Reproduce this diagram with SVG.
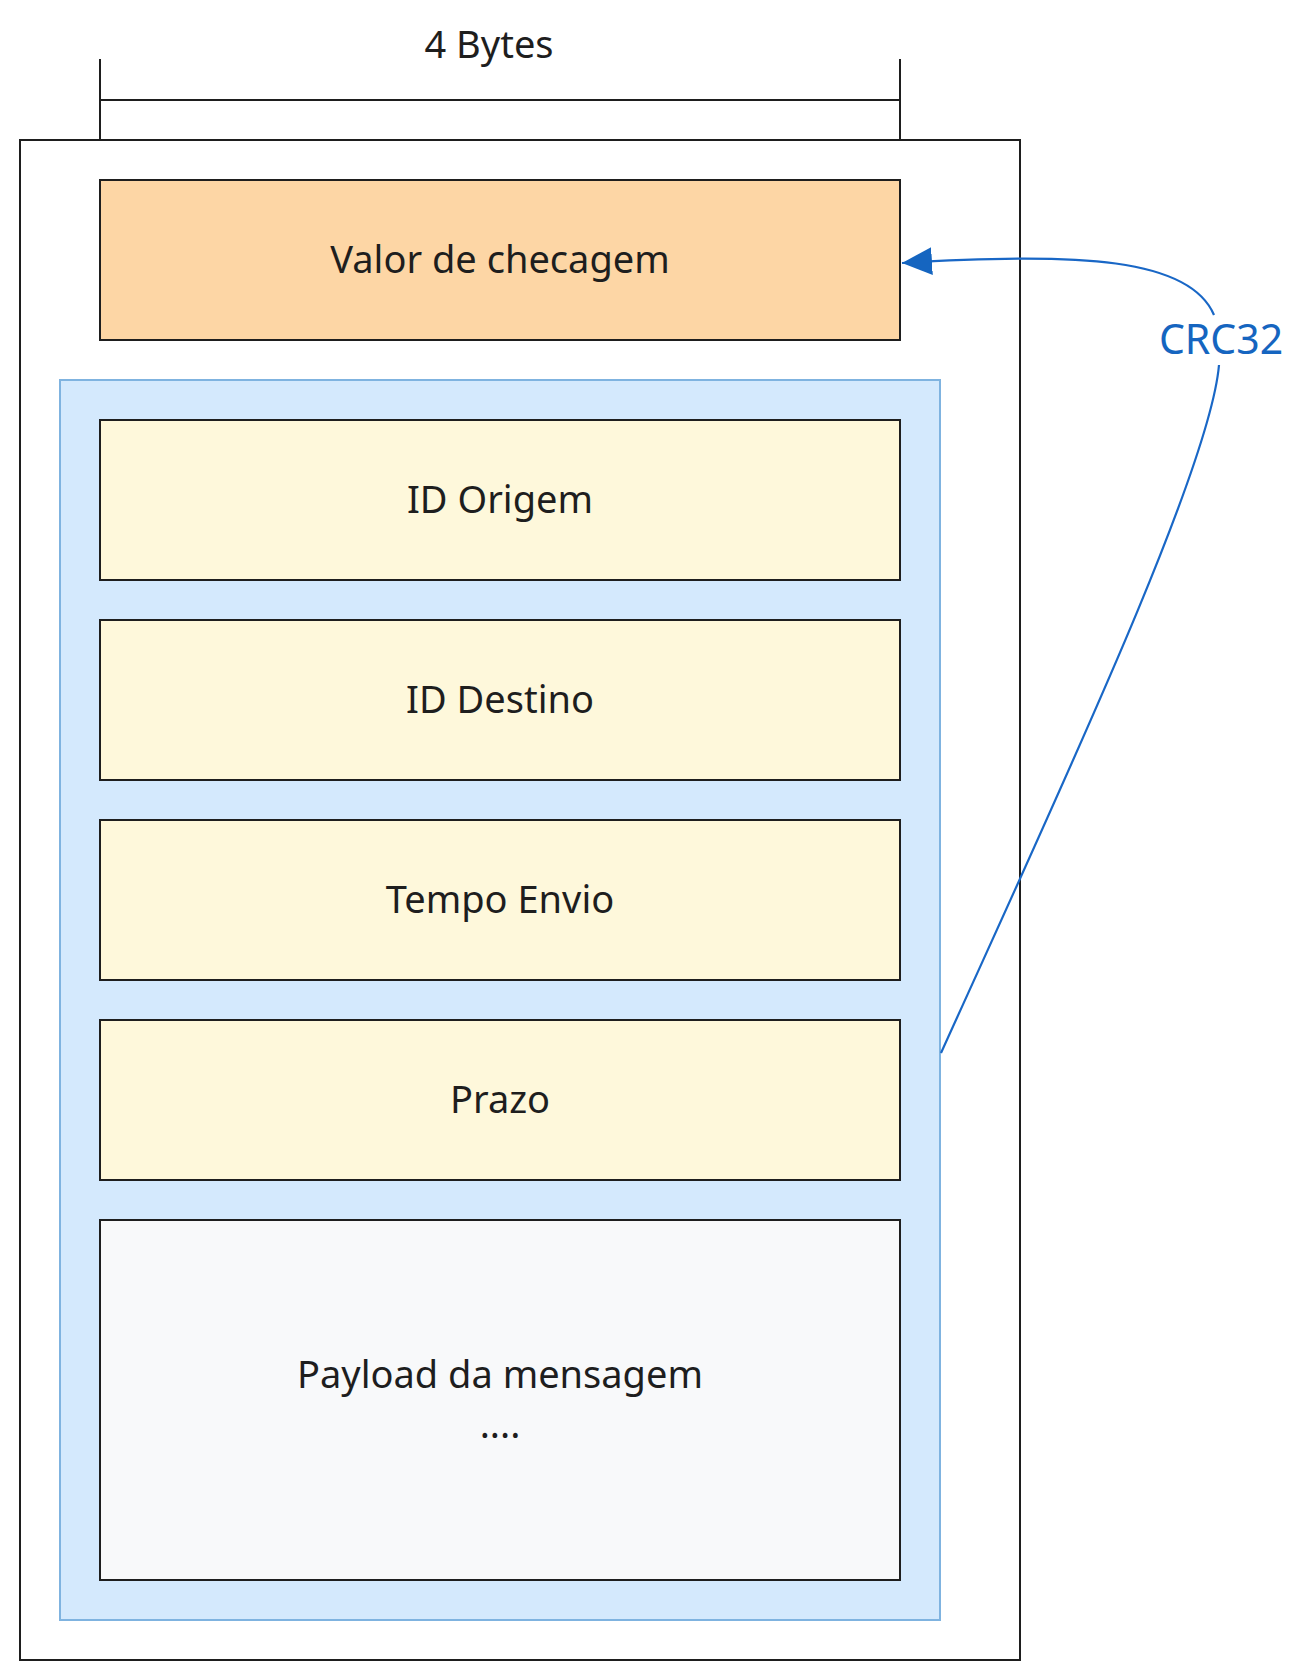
<svg xmlns="http://www.w3.org/2000/svg" width="1304" height="1680" viewBox="0 0 1304 1680">
  <style>
    .lbl { font-family: "Noto Sans", "Open Sans", sans-serif; font-size: 38px; fill: #1e1e1e; text-anchor: middle; }
    .blk { stroke: #1e1e1e; stroke-width: 2; }
    .field { fill: #fef8db; stroke: #1e1e1e; stroke-width: 2; }
    .conn { fill: none; stroke: #1967c6; stroke-width: 2.2; }
  </style>
  <defs>
    <marker id="arrow" markerUnits="userSpaceOnUse" markerWidth="32" markerHeight="30" viewBox="0 0 32 30" refX="30" refY="15" orient="auto">
      <path d="M0,1 L30,15 L0,29 Z" fill="#1565c0"/>
    </marker>
  </defs>
  <rect width="1304" height="1680" fill="#ffffff"/>

  <g id="dimension">
    <line class="blk" x1="100" y1="59" x2="100" y2="140"/>
    <line class="blk" x1="900" y1="59" x2="900" y2="140"/>
    <line class="blk" x1="100" y1="100" x2="900" y2="100"/>
    <text class="lbl" x="489" y="58">4 Bytes</text>
  </g>

  <g id="frame">
    <rect x="20" y="140" width="1000" height="1520" fill="#ffffff" class="blk"/>
  </g>

  <g id="checksum">
    <rect x="100" y="180" width="800" height="160" fill="#fdd6a5" class="blk"/>
    <text class="lbl" x="500" y="273">Valor de checagem</text>
  </g>

  <g id="crc-region">
    <rect x="60" y="380" width="880" height="1240" fill="#d4e9fd" stroke="#7fb3e0" stroke-width="2"/>
  </g>

  <g id="id-origem">
    <rect class="field" x="100" y="420" width="800" height="160"/>
    <text class="lbl" x="500" y="513">ID Origem</text>
  </g>
  <g id="id-destino">
    <rect class="field" x="100" y="620" width="800" height="160"/>
    <text class="lbl" x="500" y="713">ID Destino</text>
  </g>
  <g id="tempo-envio">
    <rect class="field" x="100" y="820" width="800" height="160"/>
    <text class="lbl" x="500" y="913">Tempo Envio</text>
  </g>
  <g id="prazo">
    <rect class="field" x="100" y="1020" width="800" height="160"/>
    <text class="lbl" x="500" y="1113">Prazo</text>
  </g>
  <g id="payload">
    <rect x="100" y="1220" width="800" height="360" fill="#f8f9fa" class="blk"/>
    <text class="lbl" x="500" y="1388">Payload da mensagem</text>
    <text class="lbl" x="500" y="1438">....</text>
  </g>

  <g id="connectors">
    <path class="conn" d="M941,1053 C1060,790 1210,470 1219,365"/>
    <path class="conn" d="M1214,315 C1190,258 1080,252 902,263" marker-end="url(#arrow)"/>
    <text x="1221" y="354" font-family="Noto Sans, Open Sans, sans-serif" font-size="41" fill="#1565c0" text-anchor="middle">CRC32</text>
  </g>
</svg>
